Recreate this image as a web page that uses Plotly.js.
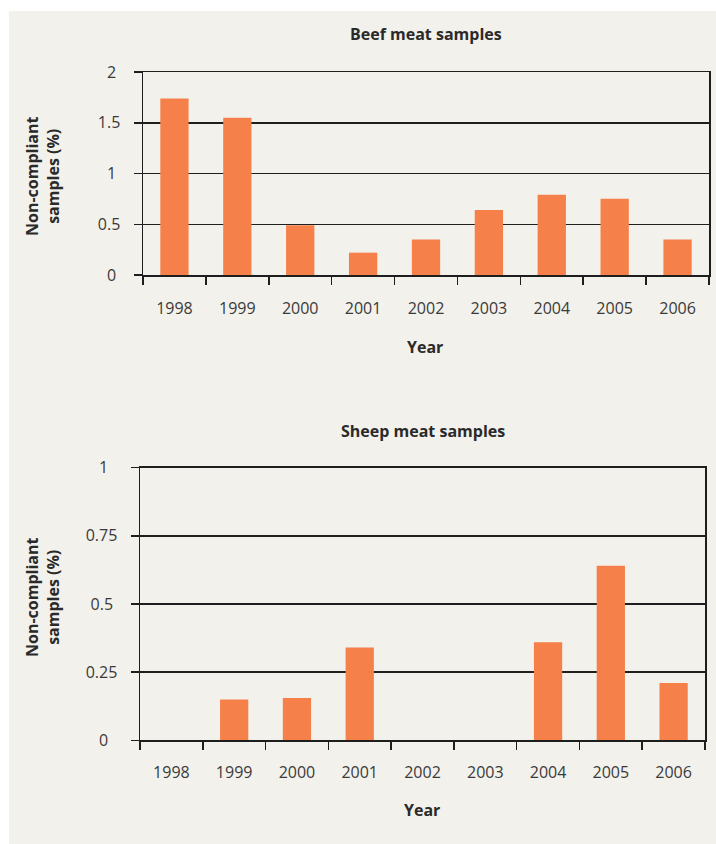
<!DOCTYPE html>
<html>
<head>
<meta charset="utf-8">
<script src="https://cdn.plot.ly/plotly-3.0.1.min.js"></script>
<style>
  html, body { margin: 0; padding: 0; background: #ffffff; }
  #chart { position: absolute; left: 9px; top: 11px; width: 707px; height: 833px; }
</style>
</head>
<body>
<div id="chart"></div>
<script>
// ---- data ----
const years = ['1998', '1999', '2000', '2001', '2002', '2003', '2004', '2005', '2006'];
const beefValues = [1.74, 1.55, 0.49, 0.22, 0.35, 0.64, 0.79, 0.75, 0.35];
const sheepValues = [0, 0.15, 0.155, 0.34, 0, 0, 0.36, 0.64, 0.21];
const beefTickVals = [0, 0.5, 1, 1.5, 2];
const beefTickText = ['0', '0.5', '1', '1.5', '2'];
const sheepTickVals = [0, 0.25, 0.5, 0.75, 1];
const sheepTickText = ['0', '0.25', '0.5', '0.75', '1'];
const beefTitle = 'Beef meat samples';
const sheepTitle = 'Sheep meat samples';
const yTitle = 'Non-compliant<br>samples (%)';
const xTitle = 'Year';

// ---- styling helpers ----
const W = 707, H = 833;
const px = x => (x - 9) / W;          // page x -> paper fraction
const py = y => 1 - (y - 11) / H;     // page y -> paper fraction
const barColor = '#f5804a';
const ink = '#1e1e1e';
const tickFont = { family: 'Open Sans, sans-serif', size: 16, color: '#3a3a3a' };
const boldFont = { family: 'Open Sans, sans-serif', size: 16, color: '#2a2a2a', weight: 700 };

// centre tick labels by padding on the right (approx glyph widths)
function centerPad(labels) {
  const w = s => [...s].reduce((a, c) => a + (c === '.' ? 0.26 : 0.572), 0);
  const maxW = Math.max(...labels.map(w));
  return labels.map(s => {
    let pad = (maxW - w(s)) / 2, out = s;
    while (pad >= 0.5) { out += '\u2007'; pad -= 0.572; }
    while (pad >= 0.2) { out += '\u2008'; pad -= 0.26; }
    return out;
  });
}

const traces = [
  { type: 'bar', x: years, y: beefValues, xaxis: 'x', yaxis: 'y',
    marker: { color: barColor }, hoverinfo: 'x+y' },
  { type: 'bar', x: years, y: sheepValues, xaxis: 'x2', yaxis: 'y2',
    marker: { color: barColor }, hoverinfo: 'x+y' }
];

const xBase = {
  type: 'category', tickson: 'boundaries', ticks: 'outside', ticklen: 8, tickwidth: 1.5,
  tickcolor: ink, showline: true, mirror: true, linecolor: ink, linewidth: 1.5, showgrid: false,
  tickfont: tickFont, fixedrange: true
};
const yBase = {
  ticks: 'outside', ticklen: 8, tickwidth: 1.5, tickcolor: ink,
  showline: true, mirror: true, linecolor: ink, linewidth: 1.5,
  showgrid: true, gridcolor: ink, gridwidth: 1.5, zeroline: false,
  tickfont: tickFont, tickmode: 'array', ticklabelstandoff: 10, fixedrange: true
};

const layout = {
  width: W, height: H,
  paper_bgcolor: '#f3f1ec', plot_bgcolor: '#f3f1ec',
  margin: { l: 0, r: 0, t: 0, b: 0 },
  showlegend: false, bargap: 0.55,
  xaxis: Object.assign({}, xBase, { domain: [px(143), px(709)], anchor: 'y', ticklabelstandoff: 18 }),
  yaxis: Object.assign({}, yBase, { domain: [py(275), py(72)], anchor: 'x', range: [0, 2],
    tickvals: beefTickVals, ticktext: centerPad(beefTickText) }),
  xaxis2: Object.assign({}, xBase, { domain: [px(140), px(705)], anchor: 'y2', ticklabelstandoff: 17 }),
  yaxis2: Object.assign({}, yBase, { domain: [py(740.3), py(467.7)], anchor: 'x2', range: [0, 1],
    tickvals: sheepTickVals, ticktext: centerPad(sheepTickText) }),
  annotations: [
    { text: beefTitle, x: px(426), y: py(34), xref: 'paper', yref: 'paper',
      xanchor: 'center', yanchor: 'middle', showarrow: false, font: boldFont },
    { text: sheepTitle, x: px(422.5), y: py(431), xref: 'paper', yref: 'paper',
      xanchor: 'center', yanchor: 'middle', showarrow: false, font: boldFont },
    { text: xTitle, x: px(425), y: py(347), xref: 'paper', yref: 'paper',
      xanchor: 'center', yanchor: 'middle', showarrow: false, font: boldFont },
    { text: xTitle, x: px(422), y: py(810), xref: 'paper', yref: 'paper',
      xanchor: 'center', yanchor: 'middle', showarrow: false, font: boldFont },
    { text: yTitle, x: px(42), y: py(177), xref: 'paper', yref: 'paper', textangle: -90,
      xanchor: 'center', yanchor: 'middle', showarrow: false, font: boldFont },
    { text: yTitle, x: px(42), y: py(598), xref: 'paper', yref: 'paper', textangle: -90,
      xanchor: 'center', yanchor: 'middle', showarrow: false, font: boldFont }
  ]
};

Plotly.newPlot('chart', traces, layout, { displayModeBar: false, staticPlot: true });
</script>
</body>
</html>
